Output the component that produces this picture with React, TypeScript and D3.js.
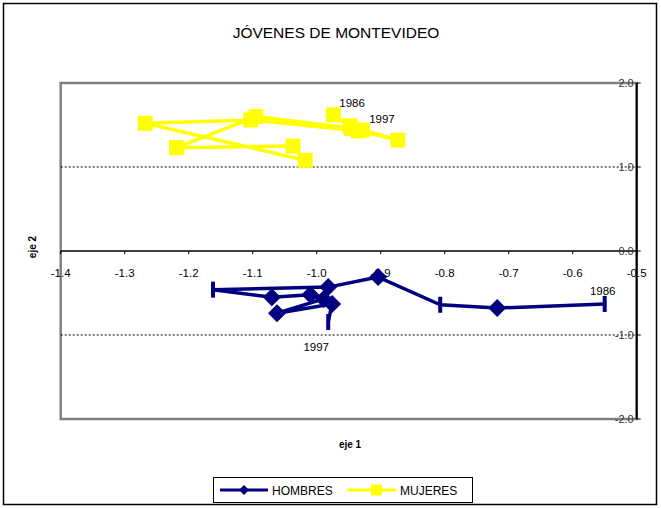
import React from "react";
import * as d3 from "d3";

const years = [1986, 1987, 1988, 1989, 1990, 1991, 1992, 1993, 1994, 1995, 1996, 1997];
const hombresX = [-0.55, -0.718, -0.807, -0.904, -0.982, -1.162, -1.07, -1.01, -0.989, -1.062, -0.976, -0.982];
const hombresY = [-0.63, -0.68, -0.64, -0.31, -0.43, -0.46, -0.55, -0.52, -0.57, -0.74, -0.63, -0.845];
const hombresMarker = ["bar", "diamond", "bar", "diamond", "diamond", "bar", "diamond", "diamond", "diamond", "diamond", "diamond", "bar"];
const mujeresX = [-0.974, -0.948, -0.873, -0.935, -1.103, -1.268, -1.018, -1.037, -1.219, -1.095, -0.946, -0.929];
const mujeresY = [1.62, 1.49, 1.32, 1.43, 1.56, 1.52, 1.08, 1.25, 1.23, 1.6, 1.46, 1.44];
const xTicks = [-1.4, -1.3, -1.2, -1.1, -1.0, -0.9, -0.8, -0.7, -0.6, -0.5];
const yTicks = [2, 1, 0, -1, -2];
const seriesNames = ["HOMBRES", "MUJERES"];
const title = "JÓVENES DE MONTEVIDEO";

const W = 661, H = 508;
const FONT = "Arial, 'Liberation Sans', sans-serif";
const BLUE = "#000080";
const YELLOW = "#FFFF00";

export default function App() {
  const x = d3.scaleLinear().domain([-1.4, -0.5]).range([60.7, 636.7]);
  const y = d3.scaleLinear().domain([-2, 2]).range([419, 83]);
  const line = d3.line<[number, number]>().x(d => x(d[0])).y(d => y(d[1]));
  const hPts: [number, number][] = hombresX.map((v, i) => [v, hombresY[i]]);
  const mPts: [number, number][] = mujeresX.map((v, i) => [v, mujeresY[i]]);
  const diamond = (cx: number, cy: number, r: number) =>
    `M${cx},${cy - r}L${cx + r},${cy}L${cx},${cy + r}L${cx - r},${cy}Z`;
  const last = years.length - 1;

  return (
    <svg width={W} height={H} style={{ position: "absolute", left: 0, top: 0 }} fontFamily={FONT}>
      <rect x={0} y={0} width={W} height={H} fill="#fff" />
      <rect x={3.5} y={3.5} width={653} height={501} fill="none" stroke="#000" strokeWidth={1.5} />
      <text x={336} y={38} textAnchor="middle" fontSize={15.5} fill="#000">{title}</text>

      {/* plot area border */}
      <rect x={x(-1.4)} y={y(2)} width={x(-0.5) - x(-1.4)} height={y(-2) - y(2)} fill="none" stroke="#808080" strokeWidth={2.5} />

      {/* dotted lines */}
      {[1, -1].map(v => (
        <line key={v} x1={x(-1.4)} x2={x(-0.5)} y1={y(v)} y2={y(v)} stroke="#000" strokeWidth={1} strokeDasharray="2,2" />
      ))}

      {/* x axis at y=0 */}
      <line x1={x(-1.4)} x2={x(-0.5)} y1={y(0)} y2={y(0)} stroke="#000" strokeWidth={1.5} />
      {xTicks.map(t => (
        <g key={t}>
          <line x1={x(t)} x2={x(t)} y1={y(0)} y2={y(0) + 3} stroke="#000" strokeWidth={1} />
          <text x={x(t)} y={y(0) + 26} textAnchor="middle" fontSize={11.5} fill="#000">{t.toFixed(1)}</text>
        </g>
      ))}

      {/* y axis at x=-0.5 */}
      <line x1={x(-0.5)} x2={x(-0.5)} y1={y(2)} y2={y(-2)} stroke="#000" strokeWidth={2} />
      {yTicks.map(t => (
        <g key={t}>
          <line x1={x(-0.5)} x2={x(-0.5) + 4} y1={y(t)} y2={y(t)} stroke="#000" strokeWidth={1} />
          <text x={x(-0.5) - 3} y={y(t) + 4} textAnchor="end" fontSize={11} fill="#333">{t.toFixed(1)}</text>
        </g>
      ))}

      <text x={350} y={448} textAnchor="middle" fontSize={10} fontWeight="bold" fill="#000">eje 1</text>
      <text transform={`translate(36,247) rotate(-90)`} textAnchor="middle" fontSize={10} fontWeight="bold" fill="#000">eje 2</text>

      {/* MUJERES */}
      <path d={line(mPts) || ""} fill="none" stroke={YELLOW} strokeWidth={3.5} strokeLinejoin="round" />
      {mPts.map((p, i) => (
        <rect key={i} x={x(p[0]) - 7.5} y={y(p[1]) - 7.5} width={15} height={15} fill={YELLOW} />
      ))}
      <text x={x(mujeresX[0]) + 6} y={y(mujeresY[0]) - 8} fontSize={11.5} fill="#000">{years[0]}</text>
      <text x={x(mujeresX[last]) + 7} y={y(mujeresY[last]) - 7} fontSize={11.5} fill="#000">{years[last]}</text>

      {/* HOMBRES */}
      <path d={line(hPts) || ""} fill="none" stroke={BLUE} strokeWidth={3.5} strokeLinejoin="round" />
      {hPts.map((p, i) =>
        hombresMarker[i] === "bar" ? (
          <rect key={i} x={x(p[0]) - 2} y={y(p[1]) - 8} width={4} height={16} fill={BLUE} />
        ) : (
          <path key={i} d={diamond(x(p[0]), y(p[1]), 9)} fill={BLUE} />
        )
      )}
      <text x={x(hombresX[0]) - 2} y={y(hombresY[0]) - 9} textAnchor="middle" fontSize={11.5} fill="#000">{years[0]}</text>
      <text x={x(hombresX[last]) - 12} y={y(hombresY[last]) + 29} textAnchor="middle" fontSize={11.5} fill="#000">{years[last]}</text>

      {/* legend */}
      <rect x={213.5} y={477.5} width={259} height={25} fill="#fff" stroke="#000" strokeWidth={1} />
      <line x1={220} x2={268} y1={490} y2={490} stroke={BLUE} strokeWidth={3} />
      <path d={diamond(244, 490, 5)} fill={BLUE} />
      <text x={272} y={494.5} fontSize={12} fill="#000">{seriesNames[0]}</text>
      <line x1={347} x2={396} y1={490} y2={490} stroke={YELLOW} strokeWidth={3} />
      <rect x={371} y={484.5} width={11} height={11} fill={YELLOW} />
      <text x={400} y={494.5} fontSize={12} fill="#000">{seriesNames[1]}</text>
    </svg>
  );
}
